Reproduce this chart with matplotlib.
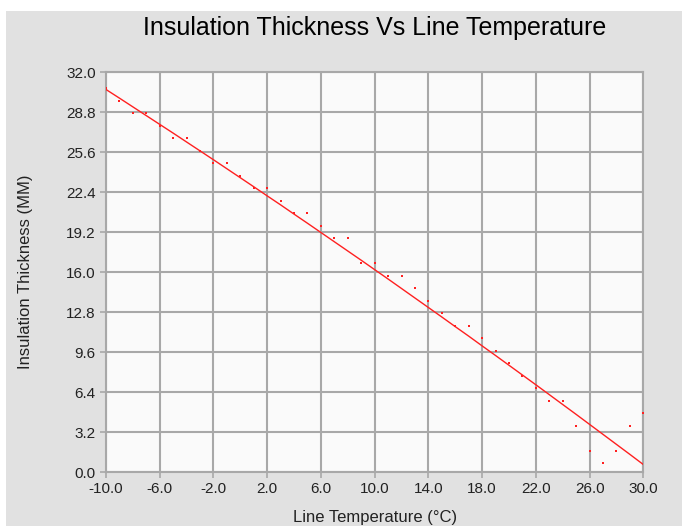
import numpy as np
import matplotlib
matplotlib.use("Agg")
import matplotlib.pyplot as plt
from matplotlib.patches import Rectangle

# 측정값 (온도별 단열 두께)
temps = list(range(-10, 31))
thickness = [30.7, 29.7, 28.7, 28.7, 27.7, 26.7, 26.7, 25.7, 24.7, 24.7,
             23.7, 22.7, 22.7, 21.7, 20.7, 20.7, 19.7, 18.7, 18.7, 16.7,
             16.7, 15.7, 15.7, 14.7, 13.7, 12.7, 11.7, 11.7, 10.7, 9.7,
             8.7, 7.7, 6.7, 5.7, 5.7, 3.7, 1.7, 0.7, 1.7, 3.7, 4.7]

# 추세선 값
trend = [30.60, 29.91, 29.21, 28.51, 27.81, 27.11, 26.40, 25.69, 24.98, 24.26,
         23.54, 22.82, 22.09, 21.37, 20.63, 19.90, 19.16, 18.42, 17.68, 16.94,
         16.19, 15.44, 14.68, 13.92, 13.16, 12.40, 11.63, 10.87, 10.09, 9.32,
         8.54, 7.76, 6.98, 6.19, 5.40, 4.61, 3.81, 3.01, 2.21, 1.41, 0.60]

x_ticks = [-10, -6, -2, 2, 6, 10, 14, 18, 22, 26, 30]
y_ticks = [0.0, 3.2, 6.4, 9.6, 12.8, 16.0, 19.2, 22.4, 25.6, 28.8, 32.0]

plt.rcParams['font.family'] = ['Liberation Sans', 'DejaVu Sans']

fig = plt.figure(figsize=(6.82, 5.26), dpi=100, facecolor='#e1e1e1')
# 위쪽/왼쪽 흰 여백
fig.patches.append(Rectangle((0, 1 - 11 / 526), 1, 11 / 526, transform=fig.transFigure,
                             facecolor='white', edgecolor='none'))
fig.patches.append(Rectangle((0, 0), 6 / 682, 1, transform=fig.transFigure,
                             facecolor='white', edgecolor='none'))

ax = fig.add_axes([106 / 682, 54 / 526, (643.3 - 106) / 682, (472 - 72) / 526])
ax.set_facecolor('#fafafa')

ax.plot(temps, trend, color='#ff2020', linewidth=1.0, zorder=3)
ax.scatter(temps, thickness, s=4, marker='s', color='#ff2020', linewidths=0, zorder=4)

ax.set_xlim(-10, 30)
ax.set_ylim(0, 32)
ax.set_xticks(x_ticks)
ax.set_yticks(y_ticks)
ax.set_xticklabels([f'{v:.1f}' for v in x_ticks])
ax.set_yticklabels([f'{v:.1f}' for v in y_ticks])
ax.grid(True, color='#a8a8a8', linewidth=1.5)
ax.set_axisbelow(True)
for s in ax.spines.values():
    s.set_color('#a8a8a8')
    s.set_linewidth(1.5)
ax.tick_params(axis='both', colors='#a8a8a8', labelcolor='#222222',
               labelsize=11, length=4, width=1.2, direction='out')

ax.set_xlabel('Line Temperature (°C)', fontsize=12, color='#222222', labelpad=10)
ax.set_ylabel('Insulation Thickness (MM)', fontsize=12, color='#222222', labelpad=24)
fig.text((106 + 643.3) / 2 / 682, 1 - 28 / 526, 'Insulation Thickness Vs Line Temperature',
         ha='center', va='center', fontsize=18, color='#000000')

fig.savefig('out.png', dpi=100, facecolor=fig.get_facecolor())
